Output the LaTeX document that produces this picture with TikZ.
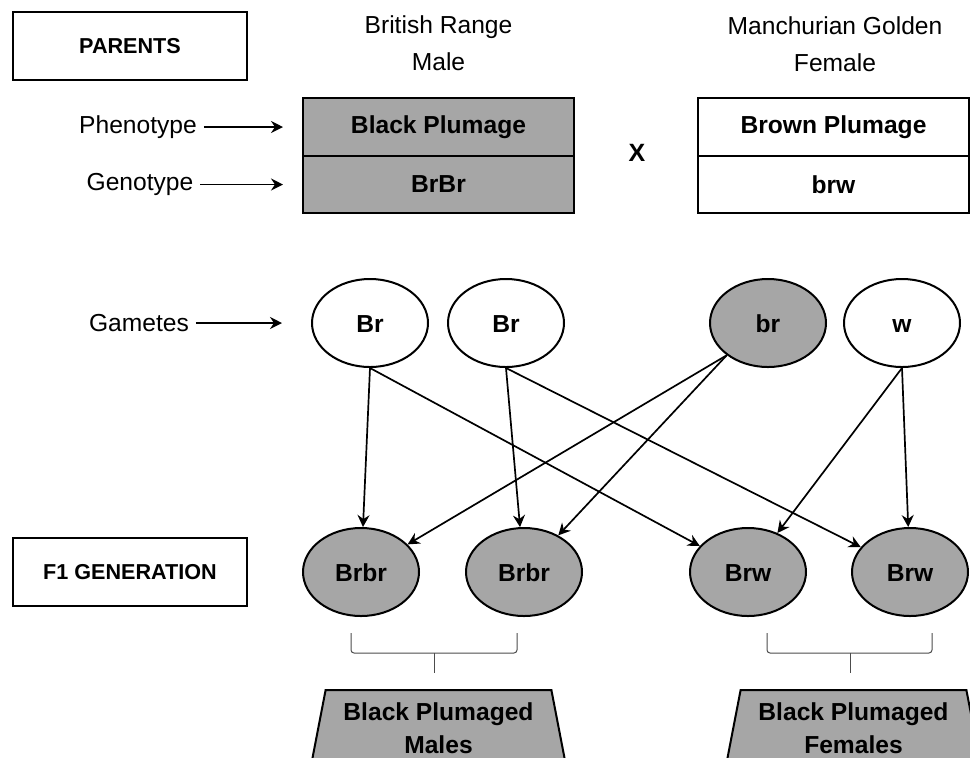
\documentclass[tikz,border=0pt]{standalone}
\usepackage{fontspec}
\setmainfont{Liberation Sans}
\usepackage{xcolor}
\usepackage{tikz}
\usetikzlibrary{shapes.geometric, arrows.meta, positioning}
\definecolor{plumgrey}{RGB}{166,166,166}
\tikzstyle{header} = [rectangle, draw, line width=1pt, minimum width=117pt, minimum height=34pt, font=\fontsize{10.8}{13}\selectfont\bfseries]
\tikzstyle{cell} = [rectangle, draw, line width=1pt, outer sep=0pt, minimum width=135.5pt, minimum height=28.75pt, font=\fontsize{12.3}{15}\selectfont\bfseries]
\tikzstyle{gamete} = [ellipse, draw, line width=1pt, minimum width=58pt, minimum height=44pt, inner sep=0pt, text height=9pt, text depth=0pt, font=\fontsize{12.3}{15}\selectfont\bfseries]
\tikzstyle{offspring} = [gamete, fill=plumgrey]
\tikzstyle{result} = [trapezium, draw, fill=plumgrey, line width=1pt, trapezium left angle=77, trapezium right angle=77, trapezium stretches body, minimum width=127.75pt, minimum height=38.5pt, align=center, font=\fontsize{12.3}{16.5}\selectfont\bfseries]
\tikzstyle{plaintext} = [font=\fontsize{12.3}{18.5}\selectfont, align=center]
\tikzstyle{line} = [draw, -{Stealth[length=6pt, width=6pt, inset=2pt]}, line width=0.85pt]
\tikzstyle{brace} = [draw, black!70, line width=0.5pt, rounded corners=1.5pt]

\begin{document}
\begin{tikzpicture}[x=0.5pt, y=-0.5pt]
        \useasboundingbox (0,0) rectangle (970,757);

        % Parents
        \node [header] (parents) at (130,46) {PARENTS};
        \node [plaintext] (malename) at (438.5,43.5) {British Range\\Male};
        \node [plaintext] (femname) at (835,44) {Manchurian Golden\\Female};
        \node [cell, fill=plumgrey] (mpheno) at (438.5,127) {Black Plumage};
        \node [cell, fill=plumgrey, below=0pt of mpheno] (mgeno) {BrBr};
        \node [cell] (fpheno) at (833.5,127) {Brown Plumage};
        \node [cell, below=0pt of fpheno] (fgeno) {brw};
        \node [plaintext, font=\fontsize{12.5}{15}\selectfont\bfseries] (cross) at (637,153) {X};

        % Labels
        \node [plaintext] (pheno) at (138,127) {Phenotype};
        \node [plaintext] (geno) at (140,184.5) {Genotype};
        \node [plaintext] (gam) at (139,323) {Gametes};
        \coordinate [left=10pt of mpheno.west] (phenoend);
        \coordinate [left=10pt of mgeno.west] (genoend);

        % Gametes
        \node [gamete] (g1) at (370,323) {Br};
        \node [gamete] (g2) at (506,323) {Br};
        \node [gamete, fill=plumgrey] (g3) at (768,323) {br};
        \node [gamete] (g4) at (902,323) {w};
        \coordinate [left=14.5pt of g1.west] (gamend);

        % F1
        \node [header] (fone) at (130,572) {F1 GENERATION};
        \node [offspring] (f1) at (361,572) {Brbr};
        \node [offspring] (f2) at (524,572) {Brbr};
        \node [offspring] (f3) at (748,572) {Brw};
        \node [offspring] (f4) at (910,572) {Brw};

        % Paths
        \draw [line] (pheno) -- (phenoend);
        \draw [line] (geno) -- (genoend);
        \draw [line] (gam) -- (gamend);
        \draw [line] (g1.south) -- (f1);
        \draw [line] (g1.south) -- (f3);
        \draw [line] (g2.south) -- (f2);
        \draw [line] (g2.south) -- (f4);
        \draw [line] (g3.218) -- (f1);
        \draw [line] (g3.218) -- (f2);
        \draw [line] (g4.south) -- (f3);
        \draw [line] (g4.south) -- (f4);

        % Braces
        \draw [brace] (351,633) -- (351,653) -- (517,653) -- (517,633);
        \draw [brace] (434,653) -- (434,673);
        \draw [brace] (767,633) -- (767,653) -- (932,653) -- (932,633);
        \draw [brace] (850,653) -- (850,673);

        % Results
        \node [result] (males) at (438.5,728.5) {Black Plumaged\\Males};
        \node [result] (females) at (853.5,728.5) {Black Plumaged\\Females};
    \end{tikzpicture}
\end{document}
